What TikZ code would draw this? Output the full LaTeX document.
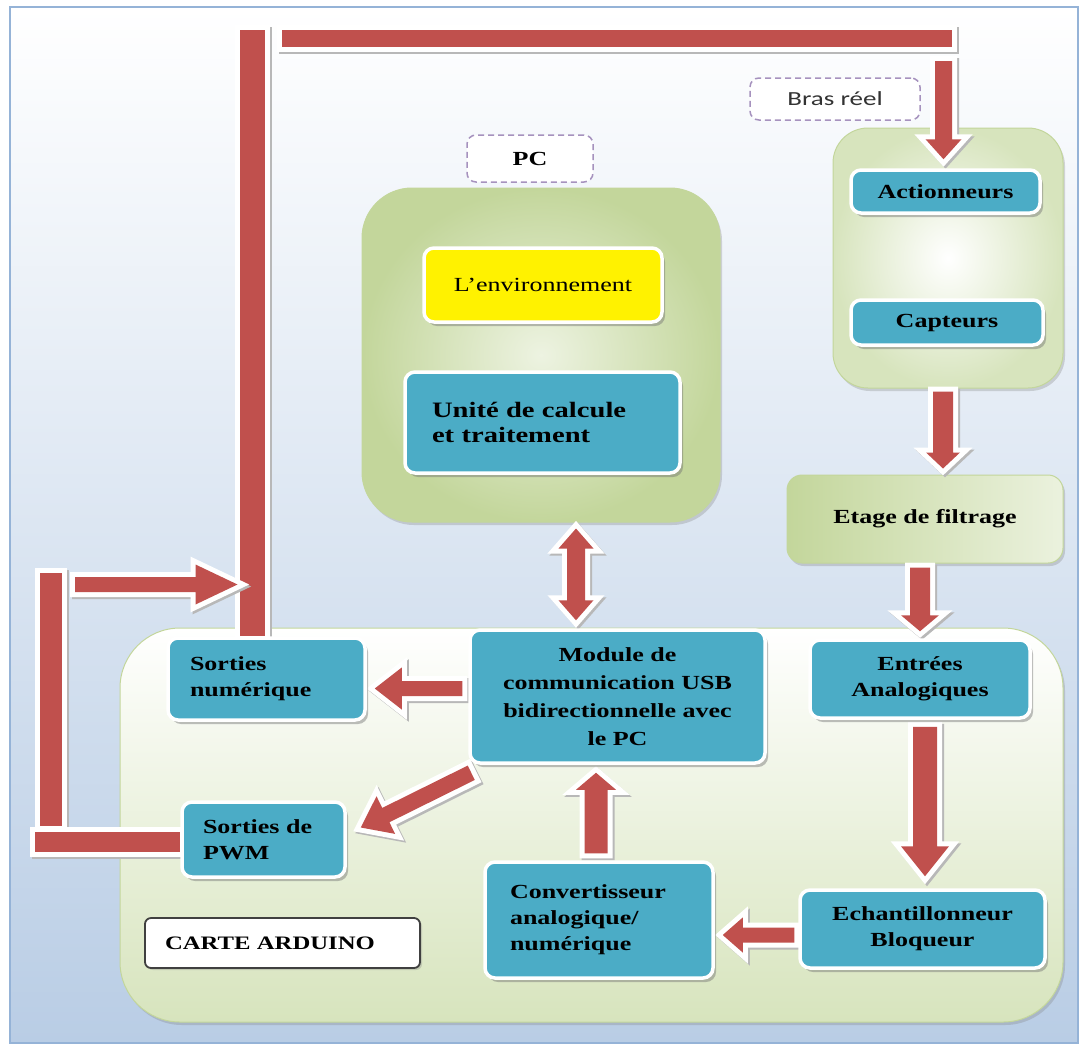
\documentclass[tikz,border=0pt]{standalone}
\usepackage{fontspec}
\setmainfont{Liberation Serif}
\newfontfamily\tnr[FakeStretch=1.3]{Liberation Serif}
\newfontfamily\calib[FakeStretch=1.35]{Carlito}
\usetikzlibrary{calc,shadows}
\definecolor{bgblue}{RGB}{185,205,229}
\definecolor{frameblue}{RGB}{149,179,215}
\definecolor{tealc}{RGB}{75,172,198}
\definecolor{arrred}{RGB}{192,80,77}
\definecolor{lgreen}{RGB}{215,228,189}
\definecolor{mgreen}{RGB}{195,214,155}
\definecolor{dpurple}{RGB}{128,100,162}
\pgfdeclarelayer{bgl}
\pgfdeclarelayer{contl}
\pgfdeclarelayer{arrl}
\pgfsetlayers{bgl,contl,arrl,main}
\tikzset{
 tbox/.style={rectangle, rounded corners=10pt, fill=tealc, draw=white, line width=3.5pt,
   drop shadow={shadow xshift=3pt, shadow yshift=-4pt, opacity=.45, fill=black!55},
   font=\tnr\bfseries\fontsize{20}{26}\selectfont, inner sep=0pt, text=black},
 cont/.style={rectangle, draw=mgreen, line width=1pt,
   drop shadow={shadow xshift=2pt, shadow yshift=-3pt, opacity=.3, fill=black!50},
   font=\tnr\bfseries\fontsize{20}{26}\selectfont, inner sep=0pt, text=black},
 dlabel/.style={rectangle, rounded corners=9pt, draw=dpurple!70, dash pattern=on 6pt off 4pt,
   line width=1.5pt, fill=white, inner sep=0pt},
 barrow/.style={fill=arrred,
   preaction={fill=black!28, draw=black!28, line width=10pt, line join=miter, miter limit=10,
     transform canvas={xshift=2pt, yshift=-2pt}},
   preaction={fill=white, draw=white, line width=10pt, line join=miter, miter limit=10}},
}
% #1 start, #2 end, #3 half shaft, #4 half head, #5 head length
\newcommand\blockarrow[5]{%
 \coordinate (bah) at ($(#2)!#5!(#1)$);
 \path[barrow] ($(#1)!#3!90:(#2)$) -- ($(bah)!#3!-90:(#1)$) -- ($(bah)!#4!-90:(#1)$) -- (#2)
   -- ($(bah)!#4!90:(#1)$) -- ($(bah)!#3!90:(#1)$) -- ($(#1)!#3!-90:(#2)$) -- cycle;}
\newcommand\dblockarrow[5]{%
 \coordinate (bha) at ($(#1)!#5!(#2)$);
 \coordinate (bhb) at ($(#2)!#5!(#1)$);
 \path[barrow] (#1) -- ($(bha)!#4!90:(#2)$) -- ($(bha)!#3!90:(#2)$) -- ($(bhb)!#3!-90:(#1)$)
   -- ($(bhb)!#4!-90:(#1)$) -- (#2) -- ($(bhb)!#4!90:(#1)$) -- ($(bhb)!#3!90:(#1)$)
   -- ($(bha)!#3!-90:(#2)$) -- ($(bha)!#4!-90:(#2)$) -- cycle;}
\newcommand\blockbar[3]{%
 \path[barrow] ($(#1)!#3!90:(#2)$) -- ($(#2)!#3!-90:(#1)$) -- ($(#2)!#3!90:(#1)$) -- ($(#1)!#3!-90:(#2)$) -- cycle;}

\begin{document}
\begin{tikzpicture}[x=1pt,y=-1pt]
\useasboundingbox (0,0) rectangle (1081,1045);
\begin{pgfonlayer}{bgl}
\fill[white] (0,0) rectangle (1081,1045);
\path[top color=white, bottom color=bgblue, draw=frameblue, line width=1.5pt] (10,7) rectangle (1078,1043);
\end{pgfonlayer}

\begin{pgfonlayer}{contl}
\node[cont, rounded corners=60pt, minimum width=943pt, minimum height=394pt, top color=white, bottom color=lgreen] (carte) at (591.5,825) {};
\node[cont, rounded corners=50pt, minimum width=358pt, minimum height=334pt, inner color=lgreen!45, outer color=mgreen] (pc) at (541,355) {};
\node[cont, rounded corners=35pt, minimum width=230pt, minimum height=260pt, inner color=white, outer color=lgreen] (bras) at (948,258) {};
\node[cont, rounded corners=15pt, minimum width=276pt, minimum height=88pt, left color=mgreen, right color=lgreen!50] (etage) at (925,519) {Etage de filtrage};
\end{pgfonlayer}

% labels
\node[dlabel, minimum width=126pt, minimum height=47pt, font=\tnr\bfseries\fontsize{20}{24}\selectfont] (pclab) at (530,158.5) {PC};
\node[dlabel, minimum width=170pt, minimum height=42pt, font=\calib\fontsize{20}{24}\selectfont, text=black!80] (braslab) at (835,99) {Bras réel};

% boxes
\node[tbox, minimum width=189pt, minimum height=43pt] (act) at (945.5,191.5) {Actionneurs};
\node[tbox, minimum width=192pt, minimum height=45pt] (capt) at (947,322.5) {Capteurs};
\node[tbox, fill=yellow, font=\tnr\fontsize{20}{26}\selectfont, minimum width=238pt, minimum height=74pt] (env) at (543,285) {L’environnement};
\node[tbox, minimum width=275pt, minimum height=101pt, text width=221pt, align=left, font=\tnr\bfseries\fontsize{22}{25}\selectfont] (unite) at (542.5,422.5) {Unité de calcule\\et traitement};
\node[tbox, minimum width=295pt, minimum height=133pt, align=center, font=\tnr\bfseries\fontsize{20}{28}\selectfont] (module) at (617.5,696.5) {Module de\\communication USB\\bidirectionnelle avec\\le PC};
\node[tbox, minimum width=197pt, minimum height=82pt, text width=153pt, align=left] (sortnum) at (266.5,679) {Sorties\\numérique};
\node[tbox, minimum width=163pt, minimum height=75pt, text width=121pt, align=left] (pwm) at (263.5,839.5) {Sorties de\\PWM};
\node[tbox, minimum width=220pt, minimum height=78pt, align=center] (entrees) at (920,679) {Entrées\\Analogiques};
\node[tbox, minimum width=245pt, minimum height=78pt, align=center] (echant) at (922.5,929) {Echantillonneur\\Bloqueur};
\node[tbox, minimum width=228pt, minimum height=116pt, text width=178pt, align=left] (conv) at (599,920) {Convertisseur\\analogique/\\numérique};
\node[rectangle, rounded corners=6pt, draw=black!75, line width=1.8pt, fill=white, minimum width=275pt, minimum height=50pt, text width=235pt, align=left, font=\tnr\bfseries\fontsize{19}{22}\selectfont, inner sep=0pt, drop shadow={shadow xshift=2pt, shadow yshift=-2pt, opacity=.3, fill=black!50}] (cartelab) at (282.5,943) {CARTE ARDUINO};

\begin{pgfonlayer}{arrl}
% top bus
\coordinate (busTop) at (252.5,30);
\coordinate (busBot) at (sortnum.north -| busTop);
\blockbar{busTop}{busBot}{12.5pt}
\coordinate (hbarL) at (282,38.5);
\coordinate (hbarR) at (952,38.5);
\blockbar{hbarL}{hbarR}{8.5pt}
\coordinate (actIn) at (943.5,61);
\coordinate (actTip) at ($(act.north -| actIn)+(0,-9)$);
\blockarrow{actIn}{actTip}{8.5pt}{18pt}{20pt}
% bras -> etage
\coordinate (b1) at ($(bras.south)+(-5,3)$);
\coordinate (b2) at ($(bras.south |- etage.north)+(-5,-6)$);
\blockarrow{b1}{b2}{10pt}{17pt}{16pt}
% etage -> entrees
\coordinate (e0) at (entrees.north |- etage.south);
\coordinate (e1) at ($(e0)+(0,4)$);
\coordinate (e2) at ($(entrees.north)+(0,-7)$);
\blockarrow{e1}{e2}{10pt}{19pt}{16pt}
% entrees -> echant
\coordinate (f1) at ($(entrees.south)+(5,7)$);
\coordinate (f2) at ($(echant.north)+(2.5,-12)$);
\blockarrow{f1}{f2}{12pt}{24pt}{30pt}
% echant -> conv
\coordinate (g1) at ($(echant.west)+(-4,6)$);
\coordinate (g2) at ($(conv.east |- g1)+(8,0)$);
\blockarrow{g1}{g2}{7.5pt}{17.5pt}{20pt}
% conv -> module
\coordinate (h1) at ($(conv.north)+(-3,-7)$);
\coordinate (h2) at ($(module.south -| h1)+(0,8)$);
\blockarrow{h1}{h2}{11.5pt}{20pt}{17pt}
% module <-> pc
\coordinate (d1) at ($(module.north)+(-41.5,-8)$);
\coordinate (d0) at (d1 |- pc.south);
\coordinate (d2) at ($(d0)+(0,6)$);
\dblockarrow{d1}{d2}{9pt}{17.5pt}{20pt}
% module -> sortnum
\coordinate (m1) at ($(module.west)+(-6,-8)$);
\coordinate (m2) at ($(sortnum.east |- m1)+(8,0)$);
\blockarrow{m1}{m2}{7.5pt}{21pt}{27pt}
% module -> pwm
\coordinate (p1) at ($(module.south west)+(3,8)$);
\coordinate (p2) at ($(pwm.east)+(14,-12)$);
\blockarrow{p1}{p2}{8pt}{21pt}{28pt}
% left loop
\coordinate (l1) at (75,584.5);
\coordinate (l2) at ($(busTop |- l1)+(-15,0)$);
\blockarrow{l1}{l2}{7.5pt}{20pt}{42pt}
\coordinate (v1) at (51,573);
\coordinate (v2) at (51,826);
\blockbar{v1}{v2}{11pt}
\coordinate (w1) at (35,842);
\coordinate (w2) at (pwm.west |- w1);
\blockbar{w1}{w2}{10pt}
\end{pgfonlayer}
\end{tikzpicture}
\end{document}
